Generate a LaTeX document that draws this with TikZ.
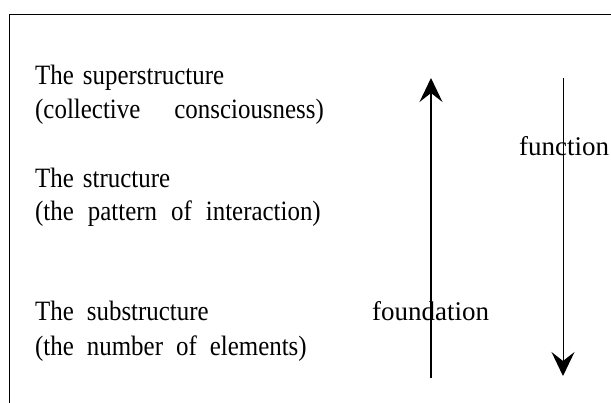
\documentclass[tikz,border=0pt]{standalone}
\usepackage{fontspec}
\setmainfont[FakeStretch=0.89]{Liberation Serif}
\newfontfamily\lblfont{Liberation Serif}
\usetikzlibrary{arrows.meta}
\newcommand\gap[1]{\hspace{#1}}
\tikzset{
  txt/.style={anchor=base west, inner sep=0pt, font=\fontsize{28}{30}\selectfont},
  lbl/.style={anchor=base west, inner sep=0pt, font=\lblfont\fontsize{27}{30}\selectfont},
  bigarrow/.style={-{Stealth[length=24pt,width=23pt,inset=9pt]}},
}
\begin{document}
\begin{tikzpicture}[x=1pt,y=-1pt]
\useasboundingbox (0,0) rectangle (611,402);
\draw[line width=1pt] (9,420) -- (9,14) -- (620,14);
\node[txt] (sup1) at (35,84) {The\gap{9pt}superstructure};
\node[txt] (sup2) at (35,118) {(collective\gap{34pt}consciousness)};
\node[txt] (str1) at (35,187) {The\gap{9pt}structure};
\node[txt] (str2) at (35,220) {(the\gap{14pt}pattern\gap{14pt}of\gap{14pt}interaction)};
\node[txt] (sub1) at (35,320) {The\gap{13pt}substructure};
\node[txt] (sub2) at (35,355) {(the\gap{13pt}number\gap{13pt}of\gap{13pt}elements)};
\node[lbl] (found) at (372,320) {foundation};
\node[lbl] (func) at (519,155) {function};
\coordinate (ub) at (431,378);
\coordinate (ut) at (431,78);
\coordinate (dt) at (563,78);
\coordinate (db) at (563,376);
\draw[bigarrow, line width=1.5pt] (ub) -- (ut);
\draw[bigarrow, line width=1pt] (dt) -- (db);
\end{tikzpicture}
\end{document}
